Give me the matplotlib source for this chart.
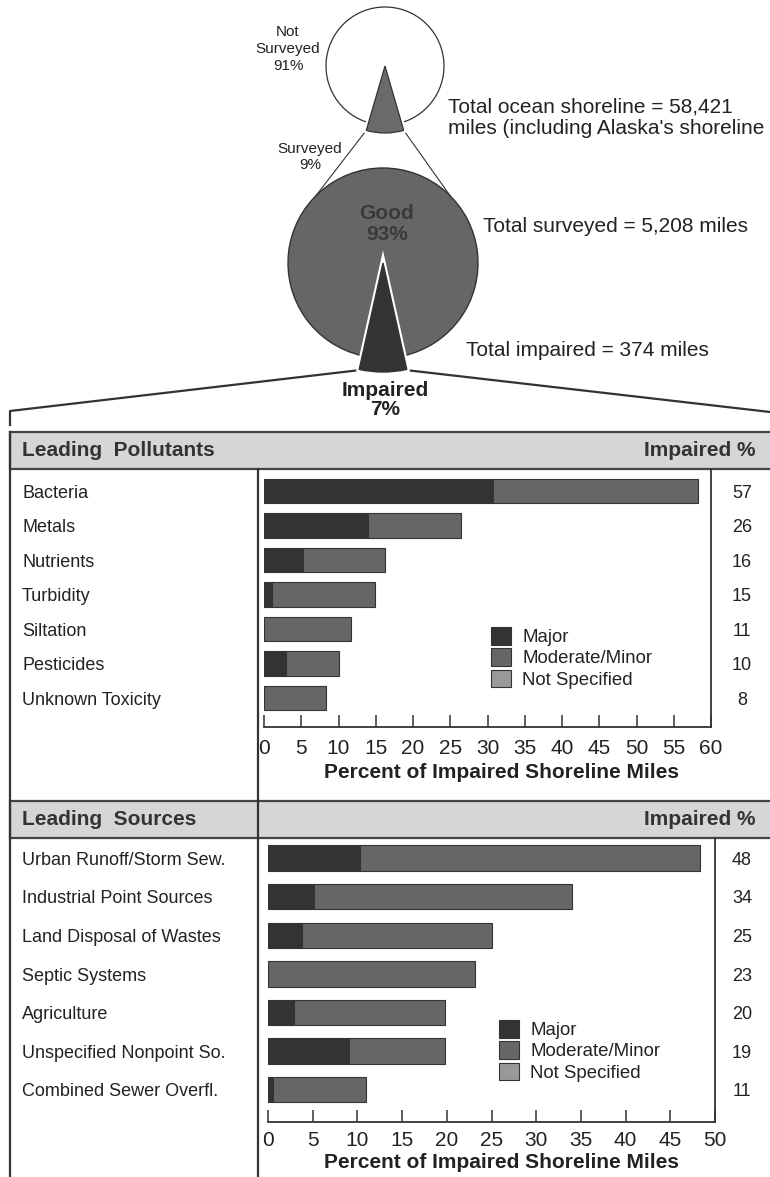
import matplotlib.pyplot as plt
import matplotlib.patheffects as pe
from matplotlib.patches import Patch, Rectangle
from matplotlib.transforms import blended_transform_factory
import numpy as np

plt.rcParams['font.family'] = ['Liberation Sans', 'DejaVu Sans']

# Datos de los pasteles
shore_labels = ["Surveyed", "Not Surveyed"]
shore_pct = [9, 91]
surveyed_labels = ["Impaired", "Good"]
surveyed_pct = [7, 93]

# Contaminantes principales
pollutants = ["Bacteria", "Metals", "Nutrients", "Turbidity", "Siltation",
              "Pesticides", "Unknown Toxicity"]
poll_major = [30.8, 13.9, 5.2, 1.1, 0, 3.0, 0]
poll_moderate = [27.5, 12.5, 11.0, 13.8, 11.7, 7.0, 8.3]
poll_impaired = [57, 26, 16, 15, 11, 10, 8]
poll_ticks = [0, 5, 10, 15, 20, 25, 30, 35, 40, 45, 50, 55, 60]

# Fuentes principales
sources = ["Urban Runoff/Storm Sew.", "Industrial Point Sources",
           "Land Disposal of Wastes", "Septic Systems", "Agriculture",
           "Unspecified Nonpoint So.", "Combined Sewer Overfl."]
src_major = [10.3, 5.1, 3.8, 0, 2.9, 9.1, 0.6]
src_moderate = [38.0, 28.9, 21.3, 23.1, 16.9, 10.7, 10.4]
src_impaired = [48, 34, 25, 23, 20, 19, 11]
src_ticks = [0, 5, 10, 15, 20, 25, 30, 35, 40, 45, 50]

legend_labels = ["Major", "Moderate/Minor", "Not Specified"]

W, H = 770, 1177
C_MAJOR, C_MOD, C_NS = "#333333", "#666666", "#999999"
C_TXT, C_LINE, C_HEAD = "#222222", "#333333", "#d4d6d7"

fig = plt.figure(figsize=(W / 100, H / 100), dpi=100)


def px_axes(left, top, right, bottom, **kw):
    return fig.add_axes([left / W, 1 - bottom / H, (right - left) / W, (bottom - top) / H], **kw)


# capa de fondo en pixeles
ov = px_axes(0, 0, W, H)
ov.set_xlim(0, W)
ov.set_ylim(H, 0)
ov.axis("off")


def draw_pie(cx, cy, r, r_big, values, colors, edge_lw):
    s = r_big + 6
    pa = px_axes(cx - s, cy - s, cx + s, cy + s)
    start = 270 - values[0] * 1.8
    wedges, _ = pa.pie(values, radius=r, startangle=start, colors=colors,
                       wedgeprops=dict(edgecolor=C_LINE, linewidth=edge_lw))
    wedges[0].set_radius(r_big)
    wedges[0].set_zorder(3)
    wedges[0].set_path_effects([pe.withStroke(linewidth=4, foreground="white")])
    pa.set_xlim(-s, s)
    pa.set_ylim(-s, s)
    pa.axis("off")
    return pa, start


def pt(cx, cy, r, ang):
    a = np.deg2rad(ang)
    return cx + r * np.cos(a), cy - r * np.sin(a)


# pastel superior
cx1, cy1, r1, rb1 = 385, 66, 59, 67
pa1, st1 = draw_pie(cx1, cy1, r1, rb1, shore_pct, ["#6a6a6a", "white"], 0.9)
# pastel inferior
cx2, cy2, r2, rb2 = 383, 263, 95, 109
pa2, st2 = draw_pie(cx2, cy2, r2, rb2, surveyed_pct, [C_MAJOR, C_MOD], 1.0)

# lineas de conexion entre pasteles
for a_from, a_to in [(st1, 135), (st1 + shore_pct[0] * 3.6, 45)]:
    x0, y0 = pt(cx1, cy1, rb1, a_from)
    x1, y1 = pt(cx2, cy2, r2, a_to)
    ov.plot([x0, x1], [y0, y1], color=C_LINE, lw=0.8)

xl, yl = pt(cx2, cy2, rb2, st2)
xr, yr = pt(cx2, cy2, rb2, st2 + surveyed_pct[0] * 3.6)
ov.plot([xl - 2, 10, 10], [yl + 1, 411, 425], color=C_LINE, lw=1.6)
ov.plot([xr + 2, W], [yr + 1, 412], color=C_LINE, lw=1.6)

# textos de los pasteles
ov.text(288, 49, "Not\nSurveyed\n91%", ha="center", va="center", fontsize=11,
        linespacing=1.25, color=C_TXT)
ov.text(310, 157, "Surveyed\n9%", ha="center", va="center", fontsize=11,
        linespacing=1.2, color=C_TXT)
pa2.text(387, 224, "Good\n93%", transform=ov.transData, ha="center", va="center",
         fontsize=15, fontweight="bold", linespacing=1.15, color="#3a3a3a",
         zorder=5)
ov.text(385, 400, "Impaired\n7%", ha="center", va="center", fontsize=15,
        fontweight="bold", linespacing=1.0, color=C_TXT)
ov.text(448, 118, "Total ocean shoreline = 58,421\nmiles (including Alaska's shoreline",
        ha="left", va="center", fontsize=15, linespacing=1.15, color=C_TXT)
ov.text(483, 227, "Total surveyed = 5,208 miles", ha="left", va="center",
        fontsize=15, color=C_TXT)
ov.text(466, 350, "Total impaired = 374 miles", ha="left", va="center",
        fontsize=15, color=C_TXT)

# encabezados y marco de las tablas
for top, title in [(432, "Leading  Pollutants"), (801, "Leading  Sources")]:
    ov.add_patch(Rectangle((10, top), W + 10, 37, facecolor=C_HEAD,
                           edgecolor="#444444", lw=1.6))
    ov.text(22, top + 18.5, title, ha="left", va="center", fontsize=15,
            fontweight="bold", color=C_LINE)
    ov.text(755, top + 18.5, "Impaired %", ha="right", va="center", fontsize=15,
            fontweight="bold", color=C_LINE)
ov.plot([10, 10], [432, H], color=C_LINE, lw=1.6)
ov.plot([258, 258], [469, H], color=C_LINE, lw=1.6)


def bar_panel(left, top, right, bottom, names, major, moderate, impaired,
              ticks, ylim, height, leg_xy, xlabel_y, tick_pad):
    ax = px_axes(left, top, right, bottom)
    ax.patch.set_alpha(0)
    y = np.arange(len(names))
    b1 = ax.barh(y, major, height=height, color=C_MAJOR, edgecolor=C_LINE, lw=0.8)
    b2 = ax.barh(y, moderate, left=major, height=height, color=C_MOD,
                 edgecolor=C_LINE, lw=0.8)
    ax.set_xlim(ticks[0], ticks[-1])
    ax.set_ylim(*ylim)
    ax.set_yticks([])
    ax.set_xticks(ticks)
    ax.tick_params(axis="x", direction="in", length=8.5, width=1.1,
                   labelsize=15, pad=tick_pad, colors=C_LINE, labelcolor=C_TXT)
    for side in ["left", "top"]:
        ax.spines[side].set_visible(False)
    for side in ["right", "bottom"]:
        ax.spines[side].set_color(C_LINE)
        ax.spines[side].set_linewidth(1.3)
    ax.set_xlabel("Percent of Impaired Shoreline Miles", fontsize=15,
                  fontweight="bold", color=C_TXT)
    ax.xaxis.set_label_coords((501 - left) / (right - left),
                              -(xlabel_y - bottom) / (bottom - top))
    ax.xaxis.label.set_verticalalignment("center")

    tr = blended_transform_factory(ov.transData, ax.transData)
    for i, (n, v) in enumerate(zip(names, impaired)):
        ov.text(22, i + 0.06, n, transform=tr, ha="left", va="center",
                fontsize=13, color=C_TXT)
        ov.text(742, i + 0.06, str(v), transform=tr, ha="center", va="center",
                fontsize=13, color=C_TXT)

    handles = [b1, b2, Patch(facecolor=C_NS, edgecolor=C_LINE, lw=0.8)]
    ax.legend(handles, legend_labels, loc="upper left",
              bbox_to_anchor=(leg_xy[0] / W, 1 - leg_xy[1] / H),
              bbox_transform=fig.transFigure, frameon=False, fontsize=13.4,
              handlelength=1.07, handleheight=1.07, handletextpad=0.6,
              labelspacing=0.12, borderpad=0, borderaxespad=0,
              labelcolor=C_TXT)
    return ax


bar_panel(264, 469, 711, 727, pollutants, poll_major, poll_moderate,
          poll_impaired, poll_ticks, (6.84, -0.64), 0.71, (491, 627), 773, 8.5)
bar_panel(268, 838, 715, 1122, sources, src_major, src_moderate,
          src_impaired, src_ticks, (6.84, -0.52), 0.66, (499, 1020), 1163, 6.5)

fig.savefig("out.png", dpi=100)
